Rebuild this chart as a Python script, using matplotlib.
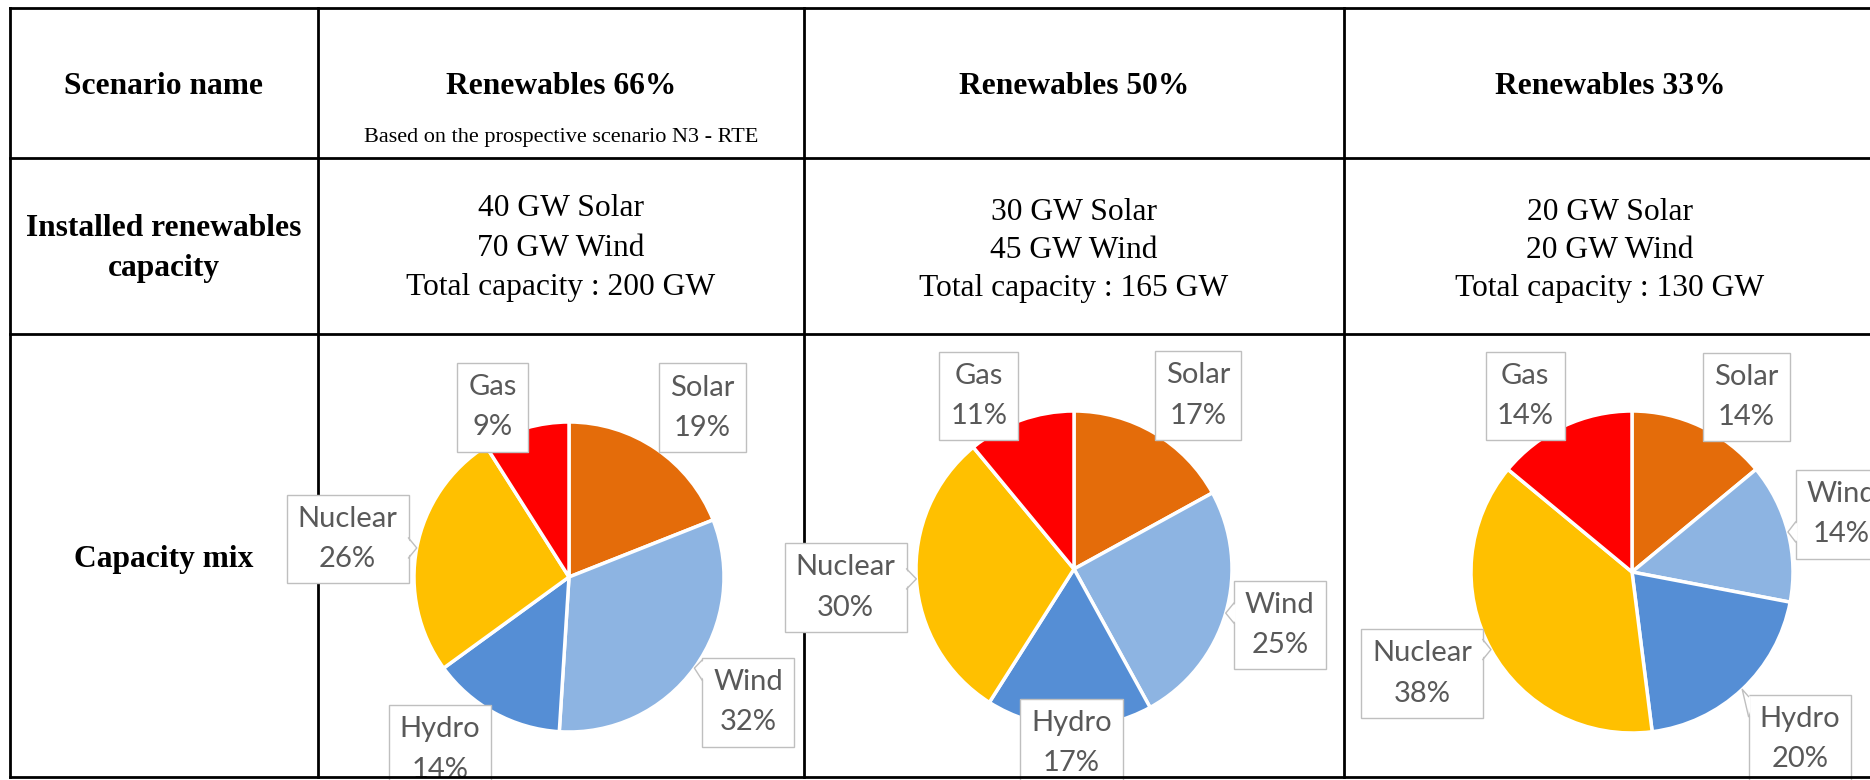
import matplotlib
matplotlib.use("Agg")
import matplotlib.pyplot as plt
from matplotlib.patches import Polygon
import numpy as np

# ---- data ----
scenarios = ["Renewables 66%", "Renewables 50%", "Renewables 33%"]
scenario_notes = ["Based on the prospective scenario N3 - RTE", "", ""]
solar_gw = [40, 30, 20]
wind_gw = [70, 45, 20]
total_gw = [200, 165, 130]
row_titles = ["Scenario name", "Installed renewables\ncapacity", "Capacity mix"]

sources = ["Solar", "Wind", "Hydro", "Nuclear", "Gas"]
mix_66 = [19, 32, 14, 26, 9]
mix_50 = [17, 25, 17, 30, 11]
mix_33 = [14, 14, 20, 38, 14]
mixes = [mix_66, mix_50, mix_33]

colors = ["#E46C0A", "#8DB4E2", "#558ED5", "#FFC000", "#FF0000"]

# ---- layout (pixels, measured from the top-left corner) ----
W, H = 1870, 780
col_x = [10, 318, 804, 1344, 1876]
row_y = [8, 158, 334, 777]
pie_centers = [(569, 577), (1074, 569), (1632, 572)]
pie_radius = [155, 158, 161]
# callout placement: distance in radii, angle shift in degrees (clockwise)
label_dist = [[1.39, 1.41, 1.39, 1.45, 1.2],
              [1.35, 1.35, 1.1, 1.45, 1.25],
              [1.3, 1.35, 1.47, 1.45, 1.28]]
label_shift = [[4, -1, 8, -1, -8],
               [5, -1, -1, -1, -9],
               [8, -1, -2, 3, -6]]

serif = "Liberation Serif"
fs = 22.7


def Y(y):
    return H - y


fig = plt.figure(figsize=(W / 100, H / 100), dpi=100)
ax = fig.add_axes([0, 0, 1, 1])

# table grid
lw = 2.0
for x in col_x[:-1]:
    ax.plot([x, x], [Y(row_y[0]), Y(row_y[-1])], color="black", lw=lw,
            solid_capstyle="projecting", zorder=1)
for y in row_y[:-1]:
    ax.plot([col_x[0], col_x[-1]], [Y(y), Y(y)], color="black", lw=lw,
            solid_capstyle="projecting", zorder=1)
ax.plot([col_x[0], col_x[-1]], [Y(row_y[-1])] * 2, color="black", lw=lw,
        solid_capstyle="projecting", zorder=6)

# first column
xc0 = (col_x[0] + col_x[1]) / 2
ax.text(xc0, Y(94), row_titles[0], ha="center", va="baseline",
        family=serif, weight="bold", size=fs)
for s, yb in zip(row_titles[1].split("\n"), [236, 276]):
    ax.text(xc0, Y(yb), s, ha="center", va="baseline",
            family=serif, weight="bold", size=fs)
ax.text(xc0, Y(567), row_titles[2], ha="center", va="baseline",
        family=serif, weight="bold", size=fs)

# scenario columns
for k in range(3):
    xc = (col_x[k + 1] + col_x[k + 2]) / 2
    ax.text(xc, Y(94), scenarios[k], ha="center", va="baseline",
            family=serif, weight="bold", size=fs)
    if scenario_notes[k]:
        ax.text(xc, Y(142), scenario_notes[k], ha="center", va="baseline",
                family=serif, size=16)
    cell = [f"{solar_gw[k]} GW Solar", f"{wind_gw[k]} GW Wind",
            f"Total capacity : {total_gw[k]} GW"]
    base, step = (216, 39.5) if k == 0 else (220, 38)
    for i, s in enumerate(cell):
        ax.text(xc, Y(base + i * step), s, ha="center", va="baseline",
                family=serif, size=fs)

# pies with callout labels
callouts = []
for k, mix in enumerate(mixes):
    cx, cy = pie_centers[k]
    r = pie_radius[k]
    wedges, _ = ax.pie(mix, colors=colors, startangle=90, counterclock=False,
                       center=(cx, Y(cy)), radius=r, frame=True,
                       wedgeprops=dict(edgecolor="white", linewidth=2.5, zorder=2))
    for i, w in enumerate(wedges):
        mid = 0.5 * (w.theta1 + w.theta2)
        a = np.deg2rad(mid - label_shift[k][i])
        d = label_dist[k][i] * r
        t = ax.text(cx + d * np.cos(a), Y(cy) + d * np.sin(a),
                    f"{sources[i]}\n{mix[i]}%", ha="center", va="center",
                    ma="center", family="Lato", size=21, color="#595959",
                    linespacing=1.68, zorder=3,
                    bbox=dict(boxstyle="square,pad=0.38", fc="white",
                              ec="#BFBFBF", lw=1.0))
        m = np.deg2rad(mid)
        callouts.append((t, cx + r * np.cos(m), Y(cy) + r * np.sin(m)))

ax.set_xlim(0, W)
ax.set_ylim(0, H)
ax.axis("off")

# little callout tails pointing at the slices
fig.canvas.draw()
renderer = fig.canvas.get_renderer()
for t, px, py in callouts:
    bb = t.get_bbox_patch().get_window_extent(renderer)
    x0, y0, x1, y1 = bb.x0, bb.y0, bb.x1, bb.y1
    dxo = max(x0 - px, px - x1, 0)
    dyo = max(y0 - py, py - y1, 0)
    if dxo < 3 and dyo < 3:
        continue
    if dxo >= dyo:
        ex = x0 if px < x0 else x1
        inw = 2 if px < x0 else -2
        c = np.clip(py, y0 + 12, y1 - 12)
        edge = [(ex, c - 10), (ex, c + 10)]
        fill = [(ex + inw, c - 10), (px, py), (ex + inw, c + 10)]
    else:
        ey = y0 if py < y0 else y1
        inw = 2 if py < y0 else -2
        c = np.clip(px, x0 + 12, x1 - 12)
        edge = [(c - 10, ey), (c + 10, ey)]
        fill = [(c - 10, ey + inw), (px, py), (c + 10, ey + inw)]
    ax.add_patch(Polygon(fill, closed=True, fc="white", ec="none", zorder=4))
    ax.plot([edge[0][0], px, edge[1][0]], [edge[0][1], py, edge[1][1]],
            color="#BFBFBF", lw=1.0, zorder=4.5)

fig.savefig("out.png", dpi=100, facecolor="white")
